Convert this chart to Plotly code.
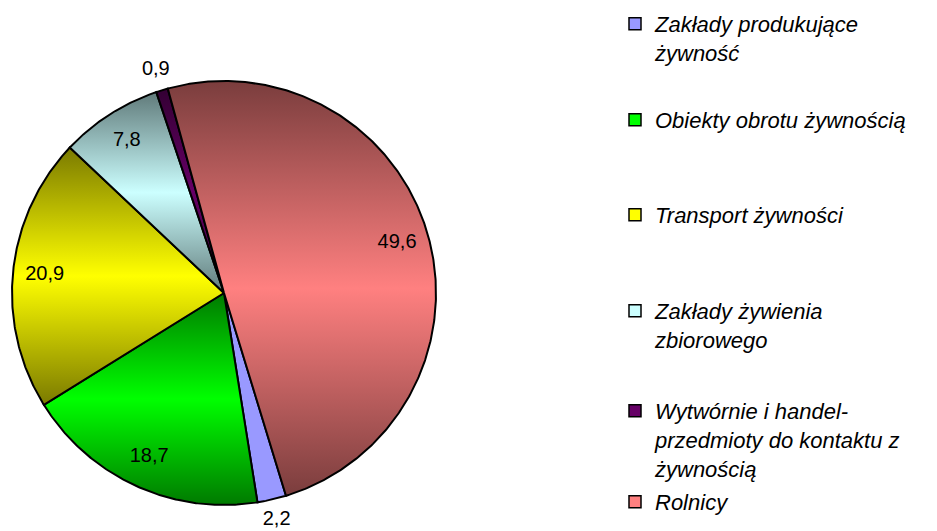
import numpy as np
import plotly.graph_objects as go

# ---- data ----
categories = [
    "Zakłady produkujące<br>żywność",
    "Obiekty obrotu żywnością",
    "Transport żywności",
    "Zakłady żywienia<br>zbiorowego",
    "Wytwórnie i handel-<br>przedmioty do kontaktu z<br>żywnością",
    "Rolnicy",
]
values = [2.2, 18.7, 20.9, 7.8, 0.9, 49.6]

# ---- style ----
light_colors = ["#9999FF", "#00FF00", "#FFFF00", "#CCFFFF", "#660066", "#FF8080"]
dark_colors = ["#9999FF", "#007A00", "#7A7A00", "#607A7A", "#330033", "#7A3D3D"]
START_ANGLE = 163.0          # degrees clockwise from 12 o'clock
LABEL_R_IN = 0.85
LABEL_R_OUT = 1.10
FONT = "Liberation Sans, Arial, sans-serif"

OFF = 8                      # page body margin of the html page
W, H = 937 - OFF, 531 - OFF
CX, CY, R = 224 - OFF, 293 - OFF, 212    # pixel centre / radius of the pie

fig = go.Figure()

total = sum(values)
cum = START_ANGLE
label_x, label_y, label_t = [], [], []
for cat, v, lc, dc in zip(categories, values, light_colors, dark_colors):
    span = v / total * 360.0
    a0, a1 = cum, cum + span
    t = np.radians(np.linspace(a0, a1, max(int(span * 2), 4)))
    xs = np.concatenate([[0], np.sin(t), [0]])
    ys = np.concatenate([[0], np.cos(t), [0]])
    fig.add_trace(go.Scatter(
        x=xs, y=ys, mode="lines", fill="toself",
        fillgradient=dict(type="vertical",
                          colorscale=[[0, dc], [0.5, lc], [1, dc]]),
        line=dict(color="black", width=2),
        showlegend=False, hoverinfo="skip",
    ))
    mid = np.radians((a0 + a1) / 2)
    r = LABEL_R_IN if v > 2.5 else LABEL_R_OUT
    label_x.append(r * np.sin(mid))
    label_y.append(r * np.cos(mid))
    label_t.append(f"{v:.1f}".replace(".", ","))
    cum = a1

fig.add_trace(go.Scatter(
    x=label_x, y=label_y, mode="text", text=label_t,
    textposition="middle center", cliponaxis=False,
    textfont=dict(family=FONT, size=20, color="black"),
    showlegend=False, hoverinfo="skip",
))

# legend entries (one legend each, to reproduce the free spacing)
baselines = [34, 130, 225, 321, 421, 512]
layout_legends = {}
for i, (cat, lc) in enumerate(zip(categories, light_colors)):
    key = "legend" if i == 0 else f"legend{i+1}"
    fig.add_trace(go.Scatter(
        x=[None], y=[None], mode="markers", name=cat,
        marker=dict(symbol="square", size=12, color=lc,
                    line=dict(color="black", width=1.5)),
        legend=key, hoverinfo="skip",
    ))
    layout_legends[key] = dict(
        x=(615 - OFF) / W, xanchor="left",
        y=1 - (baselines[i] - OFF - 31) / H, yanchor="top",
        font=dict(family=FONT, size=22, color="black", style="italic"),
        valign="top", bgcolor="rgba(0,0,0,0)",
    )

fig.update_layout(
    width=W, height=H,
    margin=dict(l=0, r=0, t=0, b=0, autoexpand=False),
    paper_bgcolor="white", plot_bgcolor="white",
    xaxis=dict(domain=[0, 2 * CX / W], range=[-CX / R, CX / R],
               visible=False, showgrid=False, zeroline=False),
    yaxis=dict(domain=[0, 1], range=[-(H - CY) / R, CY / R],
               visible=False, showgrid=False, zeroline=False),
    **layout_legends,
)

fig.write_html("out.html")
